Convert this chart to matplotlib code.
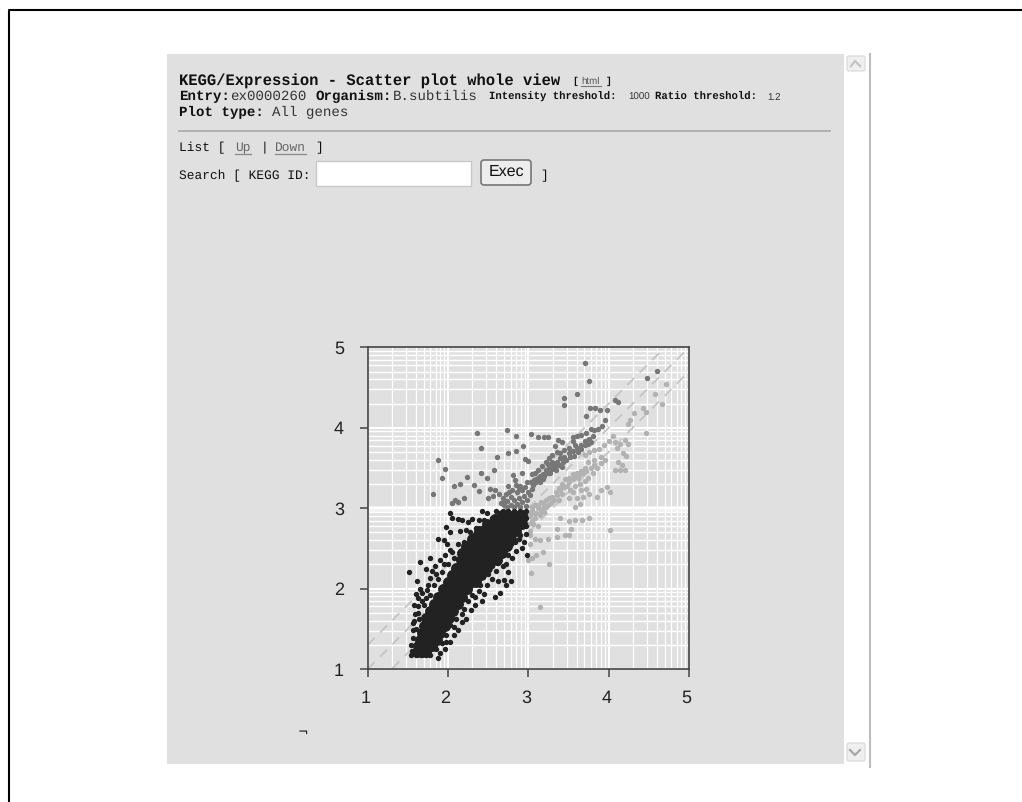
import numpy as np
import matplotlib
matplotlib.use('Agg')
import matplotlib.pyplot as plt
from matplotlib.patches import Rectangle, FancyBboxPatch
from matplotlib.transforms import ScaledTranslation

plt.rcParams['text.hinting'] = 'no_hinting'

# tick labels
tick_vals = [1, 2, 3, 4, 5]

# threshold lines (log10 offsets from the diagonal)
line_offsets = [-0.3, 0, 0.3]

# solid black body of the cloud: one row of x values per y value
core_y = [1.21, 1.28, 1.36, 1.45, 1.54, 1.63, 1.72, 1.81, 1.90, 1.99, 2.08, 2.17,
          2.26, 2.35, 2.44, 2.53, 2.62, 2.71, 2.80, 2.87, 2.91]
core_x = [
    [1.61, 1.67, 1.73],
    [1.63, 1.70, 1.77, 1.80],
    [1.65, 1.72, 1.79, 1.86],
    [1.67, 1.75, 1.83, 1.90],
    [1.70, 1.78, 1.86, 1.96],
    [1.73, 1.81, 1.89, 1.97, 2.01],
    [1.77, 1.85, 1.93, 2.01, 2.06],
    [1.82, 1.90, 1.98, 2.06, 2.12],
    [1.88, 1.96, 2.04, 2.12, 2.18],
    [1.94, 2.02, 2.10, 2.18, 2.24],
    [2.00, 2.08, 2.16, 2.24, 2.30, 2.35],
    [2.05, 2.13, 2.21, 2.29, 2.36, 2.41],
    [2.10, 2.18, 2.26, 2.34, 2.42, 2.48],
    [2.16, 2.24, 2.32, 2.40, 2.48, 2.56, 2.61],
    [2.18, 2.22, 2.30, 2.38, 2.46, 2.54, 2.62, 2.67],
    [2.23, 2.29, 2.37, 2.45, 2.53, 2.60, 2.68, 2.73],
    [2.30, 2.36, 2.44, 2.52, 2.60, 2.67, 2.74, 2.79],
    [2.39, 2.46, 2.54, 2.62, 2.70, 2.78, 2.85],
    [2.49, 2.56, 2.64, 2.72, 2.80, 2.88, 2.92],
    [2.59, 2.66, 2.74, 2.82, 2.90, 2.92],
    [2.67, 2.74, 2.82, 2.90, 2.92],
]

# scattered black points around the body
black_pts = np.array([
    [1.51, 2.21], [1.65, 2.33], [1.73, 2.24], [1.61, 2.10], [1.65, 2.00], [1.60, 1.93],
    [1.67, 1.85], [1.62, 1.78], [1.59, 1.68], [1.57, 1.57], [1.56, 1.48], [1.56, 1.38],
    [1.54, 1.30], [1.55, 1.22], [1.54, 1.17], [1.60, 1.17], [1.66, 1.17], [1.72, 1.17],
    [1.78, 1.17], [1.58, 1.60], [1.63, 1.70], [1.68, 1.95], [1.75, 2.05], [1.72, 1.88],
    [1.78, 2.13], [1.84, 2.28], [1.78, 2.38], [1.85, 2.18], [1.90, 2.36], [1.88, 2.62],
    [1.95, 2.60], [1.99, 2.55], [1.98, 2.77], [2.03, 2.70], [2.05, 2.88], [2.03, 2.94],
    [2.13, 2.87], [2.17, 2.85], [2.25, 2.83], [2.30, 2.87], [2.42, 2.96], [2.48, 2.94],
    [2.38, 2.85], [2.15, 2.72], [2.22, 2.73], [2.27, 2.70], [2.12, 2.55], [2.05, 2.45],
    [1.96, 2.42], [2.00, 2.30], [2.30, 2.60], [2.35, 2.75], [2.45, 2.85], [2.55, 2.88],
    [2.60, 2.96], [2.65, 2.92], [2.50, 2.75], [2.62, 2.85], [2.68, 2.96], [2.75, 2.97],
    [2.82, 2.97], [2.90, 2.97], [2.97, 2.97], [2.97, 2.88], [2.97, 2.78], [2.97, 2.68],
    [2.95, 2.58], [2.92, 2.50], [2.98, 2.42], [2.88, 2.62], [2.85, 2.47], [2.80, 2.38],
    [2.78, 2.55], [2.72, 2.30], [2.75, 2.20], [2.67, 2.42], [2.62, 2.32], [2.78, 2.10],
    [2.62, 2.10], [2.70, 2.11], [2.72, 2.05], [2.60, 2.22], [2.55, 2.12], [2.48, 2.05],
    [2.65, 1.95], [2.58, 1.90], [2.45, 1.93], [2.42, 1.85], [2.38, 1.97], [2.33, 1.80],
    [2.28, 1.73], [2.22, 1.62], [2.17, 1.58], [2.12, 1.48], [2.08, 1.42], [2.03, 1.33],
    [1.96, 1.25], [1.90, 1.20], [1.85, 1.25], [2.52, 2.42], [2.50, 2.30], [2.44, 2.14],
    [2.35, 2.10], [2.30, 1.92], [2.20, 1.75], [2.10, 1.62], [2.02, 1.55], [1.98, 1.42],
    [1.92, 1.32], [2.70, 2.62], [2.58, 2.45], [2.80, 2.72], [2.88, 2.78],
    [1.58, 1.80], [1.62, 1.88], [1.60, 1.50], [1.64, 1.62], [1.70, 1.80], [1.74, 1.98],
    [1.78, 1.92], [1.82, 2.05], [1.88, 2.12], [1.92, 2.20], [1.80, 2.22], [1.95, 2.30],
    [2.08, 2.38], [2.02, 2.48], [2.15, 2.45], [2.20, 2.58], [2.26, 2.52], [2.34, 2.68],
    [2.42, 2.75], [2.52, 2.82], [2.66, 2.84], [2.90, 2.66], [2.84, 2.58], [2.75, 2.42],
    [2.68, 2.28], [2.62, 2.40], [2.55, 2.28], [2.50, 2.18], [2.40, 2.05], [2.34, 1.90],
    [2.25, 1.85], [2.18, 1.68], [2.08, 1.52], [1.98, 1.33], [1.88, 1.14],
])

# up-regulated points
dark_pts = np.array([
    [3.70, 4.80], [3.75, 4.58], [3.60, 4.42], [3.45, 4.37], [3.45, 4.28], [4.48, 4.62],
    [4.60, 4.70], [4.08, 4.34], [4.12, 4.32], [3.77, 4.25], [3.83, 4.24], [3.89, 4.22],
    [3.98, 4.22], [3.72, 4.15], [3.95, 4.09], [3.87, 3.98], [3.92, 4.02], [3.82, 3.97],
    [3.78, 3.99], [3.72, 3.94], [3.66, 3.91], [3.60, 3.90], [3.55, 3.88], [3.80, 3.90],
    [3.75, 3.86], [3.70, 3.83], [3.65, 3.79], [3.60, 3.75], [3.55, 3.71], [3.50, 3.68],
    [3.45, 3.64], [3.40, 3.62], [3.36, 3.58], [3.31, 3.54], [3.26, 3.50], [3.22, 3.47],
    [3.18, 3.42], [3.12, 3.38], [3.07, 3.35], [3.03, 3.33], [3.58, 3.78], [3.50, 3.75],
    [3.42, 3.82], [3.37, 3.85], [3.45, 3.72], [3.40, 3.68], [3.30, 3.66], [3.26, 3.62],
    [3.22, 3.57], [3.27, 3.44], [3.17, 3.52], [3.12, 3.47], [3.08, 3.44], [3.18, 3.36],
    [3.10, 3.32], [2.36, 3.93], [2.74, 3.97], [2.85, 3.90], [3.03, 3.92], [3.12, 3.88],
    [3.19, 3.88], [3.25, 3.88], [2.41, 3.75], [1.88, 3.60], [1.96, 3.49], [1.93, 3.37],
    [1.81, 3.17], [2.24, 3.39], [2.07, 3.27], [2.15, 3.30], [2.32, 3.29], [2.38, 3.21],
    [2.09, 3.10], [2.05, 3.07], [2.20, 3.12], [2.12, 3.08], [2.41, 3.44], [2.48, 3.37],
    [2.57, 3.48], [2.61, 3.63], [2.75, 3.68], [2.85, 3.71], [2.93, 3.77], [2.96, 3.61],
    [3.00, 3.59], [2.52, 3.24], [2.58, 3.23], [2.63, 3.17], [2.56, 3.15], [2.50, 3.12],
    [2.81, 3.41], [2.92, 3.44], [2.85, 3.29], [2.75, 3.28], [2.80, 3.22], [2.72, 3.18],
    [2.78, 3.14], [2.86, 3.20], [2.92, 3.22], [2.96, 3.26], [2.98, 3.33], [2.68, 3.12],
    [2.74, 3.09], [2.82, 3.10], [2.88, 3.13], [2.94, 3.15], [3.00, 3.20], [2.70, 3.04],
    [2.78, 3.04], [2.86, 3.05], [2.92, 3.08], [2.98, 3.10], [2.66, 3.06], [2.90, 3.28],
    [2.83, 3.35], [3.04, 3.24], [2.90, 3.02], [2.97, 3.03], [2.74, 3.02], [2.82, 3.02],
    [3.02, 3.16], [3.06, 3.29], [3.14, 3.33], [3.20, 3.40], [3.24, 3.44], [3.29, 3.49],
    [3.34, 3.52], [3.38, 3.54], [3.43, 3.57], [3.47, 3.60], [3.52, 3.63], [3.57, 3.65],
    [3.62, 3.70], [3.66, 3.74], [3.70, 3.78], [3.74, 3.80], [3.78, 3.82], [3.15, 3.40],
    [3.10, 3.36], [3.30, 3.58], [3.35, 3.48], [3.42, 3.51], [3.25, 3.55], [3.05, 3.42],
    [2.88, 3.25], [2.76, 3.20], [2.70, 3.10], [3.36, 3.70], [3.33, 3.77], [3.56, 3.84],
])

# down-regulated points
light_pts = np.array([
    [3.14, 1.77], [3.03, 2.19], [3.26, 2.30], [3.00, 2.36], [3.10, 2.42], [3.05, 2.38],
    [3.18, 2.45], [3.02, 2.55], [3.08, 2.62], [3.24, 2.62], [3.15, 2.60], [3.36, 2.64],
    [3.46, 2.66], [3.50, 2.66], [3.36, 2.74], [3.53, 2.74], [4.02, 2.73], [3.75, 2.88],
    [3.58, 2.85], [3.50, 2.84], [3.40, 2.88], [3.67, 2.85], [3.02, 2.72], [3.06, 2.80],
    [3.12, 2.78], [3.02, 2.90], [3.08, 2.88], [3.14, 2.92], [3.05, 2.98], [3.12, 3.00],
    [3.18, 3.00], [3.08, 3.04], [3.16, 3.08], [3.22, 3.10], [3.24, 3.04], [3.20, 2.95],
    [3.30, 3.14], [3.34, 3.20], [3.28, 3.07], [3.38, 3.25], [3.42, 3.30], [3.46, 3.36],
    [3.50, 3.38], [3.55, 3.42], [3.60, 3.44], [3.66, 3.46], [3.70, 3.50], [3.62, 3.37],
    [3.48, 3.28], [3.42, 3.18], [3.38, 3.10], [3.52, 3.22], [3.58, 3.28], [3.64, 3.30],
    [3.70, 3.34], [3.74, 3.38], [3.80, 3.44], [3.86, 3.50], [3.90, 3.56], [3.82, 3.60],
    [3.74, 3.58], [3.70, 3.66], [3.76, 3.70], [3.82, 3.72], [3.90, 3.64], [3.96, 3.60],
    [4.08, 3.47], [4.14, 3.47], [4.20, 3.47], [4.12, 3.58], [4.16, 3.54], [4.02, 3.20],
    [3.98, 3.26], [3.90, 3.22], [3.86, 3.14], [3.76, 3.18], [3.72, 3.24], [3.60, 3.12],
    [3.64, 3.05], [3.58, 3.02], [4.08, 3.82], [4.14, 3.80], [4.20, 3.85], [4.24, 3.80],
    [4.05, 3.90], [4.00, 3.84], [4.10, 3.75], [4.18, 3.68], [4.22, 3.65], [3.94, 3.78],
    [3.88, 3.74], [4.46, 3.93], [4.66, 4.30], [4.58, 4.42], [4.71, 4.54], [4.43, 4.24],
    [4.46, 4.19], [4.26, 4.10], [4.24, 4.05], [4.31, 4.18], [3.00, 2.80], [3.02, 2.66],
    [3.04, 2.84], [3.10, 2.94], [3.16, 2.97], [3.22, 3.02], [3.26, 3.12], [3.32, 3.10],
    [3.36, 3.16], [3.40, 3.22], [3.44, 3.26], [3.50, 3.32], [3.56, 3.36], [3.60, 3.40],
    [3.64, 3.42], [3.68, 3.44], [3.72, 3.46], [3.78, 3.50], [3.82, 3.54], [3.06, 2.94],
    [3.00, 2.94], [3.12, 3.04], [3.18, 3.06], [3.04, 3.02], [3.56, 3.20], [3.50, 3.12],
    [3.66, 3.22], [3.68, 3.14],
])

fig = plt.figure(figsize=(10.22, 8.02), dpi=100)

# page layer, in pixel coordinates
bg = fig.add_axes([0, 0, 1, 1])
bg.set_xlim(0, 1022)
bg.set_ylim(802, 0)
bg.axis('off')

# outer frame: left and top only
bg.plot([9, 9, 1022], [802, 10, 10], color='black', lw=1.5)

# browser window
bg.add_patch(Rectangle((167, 54), 677, 710, fc='#e0e0e0', ec='none'))
bg.plot([870, 870], [54, 767], color='#bdbdbd', lw=1.5)
bg.add_patch(FancyBboxPatch((847, 56), 18, 15, boxstyle='round,pad=0,rounding_size=2', fc='#efefef', ec='#dddddd', lw=1))
bg.add_patch(FancyBboxPatch((847, 743), 18, 18, boxstyle='round,pad=0,rounding_size=2', fc='#efefef', ec='#dddddd', lw=1))
bg.plot([851, 855, 860], [66, 61, 66], color='#c4c4c4', lw=1.6)
bg.plot([850, 855, 860], [750, 755, 750], color='#a8a8a8', lw=1.6)

mono = 'Liberation Mono'
ink = '#111111'
bg.text(179, 81, 'KEGG/Expression - Scatter plot whole view', family=mono, weight='bold', size=11.2, color=ink, va='center')
bg.text(572, 81, '[', family=mono, weight='bold', size=7, color=ink, va='center')
bg.text(581, 81, 'html', family='Liberation Sans', size=7, color='#555555', va='center')
bg.plot([581, 601], [86, 86], color='#777777', lw=0.8)
bg.text(606, 81, ']', family=mono, weight='bold', size=7, color=ink, va='center')
bg.text(179, 96, 'Entry:', family=mono, weight='bold', size=10.2, color=ink, va='center')
bg.text(230, 96, 'ex0000260', family=mono, size=10.2, color='#333333', va='center')
bg.text(316, 96, 'Organism:', family=mono, weight='bold', size=10.2, color=ink, va='center')
bg.text(393, 96, 'B.subtilis', family=mono, size=10.2, color='#333333', va='center')
bg.text(489, 97, 'Intensity threshold:', family=mono, weight='bold', size=7.7, color=ink, va='center')
bg.text(628, 97, '1000', family='Liberation Sans', size=7, color='#333333', va='center')
bg.text(655, 97, 'Ratio threshold:', family=mono, weight='bold', size=7.7, color=ink, va='center')
bg.text(767, 97, '1.2', family='Liberation Sans', size=7, color='#333333', va='center')
bg.text(179, 112, 'Plot type:', family=mono, weight='bold', size=10.2, color=ink, va='center')
bg.text(272, 112, 'All genes', family=mono, size=10.2, color='#333333', va='center')
bg.plot([179, 830], [130.5, 130.5], color='#a8a8a8', lw=1.2)

bg.text(179, 148, 'List [', family=mono, size=9.3, color=ink, va='center')
bg.text(235, 148, 'Up', family=mono, size=9.3, color='#666666', va='center')
bg.plot([235, 251], [154, 154], color='#888888', lw=0.9)
bg.text(261, 148, '|', family=mono, size=9.3, color=ink, va='center')
bg.text(275, 148, 'Down', family=mono, size=9.3, color='#666666', va='center')
bg.plot([275, 306], [154, 154], color='#888888', lw=0.9)
bg.text(315, 148, ']', family=mono, size=9.3, color=ink, va='center')
bg.text(179, 176, 'Search [ KEGG ID:', family=mono, size=9.3, color=ink, va='center')
bg.add_patch(Rectangle((316, 161), 155, 25, fc='white', ec='#c8c8c8', lw=1))
bg.add_patch(FancyBboxPatch((481, 160), 50, 25, boxstyle='round,pad=0,rounding_size=3', fc='#ededed', ec='#777777', lw=1.2))
bg.text(506, 172, 'Exec', family='Liberation Sans', size=11.5, color=ink, ha='center', va='center')
bg.text(540, 176, ']', family=mono, size=9.3, color=ink, va='center')

# corner mark under the plot
bg.text(303, 732, '¬', family='DejaVu Sans', size=9, color=ink, ha='center', va='center')

# scatter plot
left, right, top, bottom = 367.7, 689.0, 347.3, 669.0
ax = fig.add_axes([left / 1022, 1 - bottom / 802, (right - left) / 1022, (bottom - top) / 802])
ax.set_xlim(1, 5)
ax.set_ylim(1, 5)
ax.set_facecolor('#e0e0e0')
for d in tick_vals[:-1]:
    for k in range(1, 10):
        w = 1.5 if k == 1 else 1.0
        ax.axvline(d + np.log10(k), color='white', lw=w * 0.9, zorder=1)
        ax.axhline(d + np.log10(k), color='white', lw=w, zorder=1)
ax.axhspan(2.95, 3.03, color='white', alpha=0.6, lw=0, zorder=1)

for off in line_offsets:
    ax.plot([1, 5], [1 + off, 5 + off], color='#c6c6c6', lw=1.4, ls=(0, (5, 4)), zorder=2)

ax.scatter(dark_pts[:, 0], dark_pts[:, 1], s=15, color='#777777', lw=0, zorder=3)
ax.scatter(light_pts[:, 0], light_pts[:, 1], s=15, color='#b2b2b2', lw=0, zorder=3)
ax.scatter(black_pts[:, 0], black_pts[:, 1], s=15, color='#222222', lw=0, zorder=4)
for y, xs in zip(core_y, core_x):
    ax.scatter(xs, [y] * len(xs), s=62, color='#222222', lw=0, zorder=4)

ax.set_xticks(tick_vals)
ax.set_yticks(tick_vals)
ax.tick_params(length=6, width=1.1, color='#444444', labelsize=13, labelcolor='#222222')
ax.tick_params(axis='x', pad=9)
ax.tick_params(axis='y', pad=11)
shift = ScaledTranslation(-2.5 / 100, 0, fig.dpi_scale_trans)
for lab in ax.get_xticklabels():
    lab.set_family('Liberation Sans')
    lab.set_transform(lab.get_transform() + shift)
for lab in ax.get_yticklabels():
    lab.set_family('Liberation Sans')
for s in ax.spines.values():
    s.set_color('#444444')
    s.set_linewidth(1.2)

fig.savefig('out.png', dpi=100)
